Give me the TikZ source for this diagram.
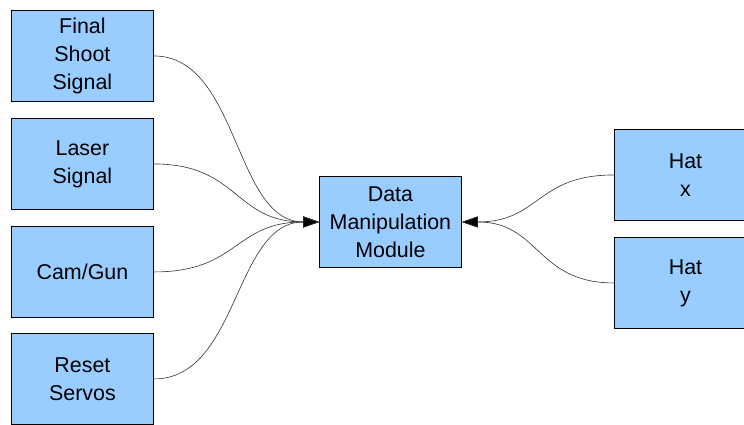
\documentclass[tikz,border=0pt]{standalone}
\usepackage{fontspec}
\setmainfont{Liberation Sans}
\usetikzlibrary{arrows.meta}
\definecolor{blockblue}{RGB}{153,204,255}
\begin{document}
\begin{tikzpicture}[x=1bp,y=-1bp,
  block/.style={draw=black, line width=0.9bp, fill=blockblue,
    minimum width=142bp, minimum height=91bp, inner sep=0pt,
    align=center, anchor=north west,
    font=\fontsize{21.5}{28}\selectfont},
  link/.style={draw=black!80, line width=0.6bp,
    -{Triangle[length=16bp,width=11bp,fill=black]}}]
\clip (0,0) rectangle (744,424);
\fill[white] (0,0) rectangle (744,424);

% input blocks
\node[block] (fss) at (11,10)  {Final\\Shoot\\Signal};
\node[block] (las) at (11,118) {Laser\\Signal};
\node[block] (cam) at (11,226) {Cam/Gun};
\node[block] (rst) at (11,333) {Reset\\Servos};

% central module
\node[block] (dmm) at (319,176) {Data\\Manipulation\\Module};

% hat inputs
\node[block] (hx) at (614,129) {Hat\\x};
\node[block] (hy) at (614,237) {Hat\\y};

% connectors
\draw[link] (fss.east) .. controls +(85,0) and +(-85,0) .. (dmm.west);
\draw[link] (las.east) .. controls +(85,0) and +(-85,0) .. (dmm.west);
\draw[link] (cam.east) .. controls +(85,0) and +(-85,0) .. (dmm.west);
\draw[link] (rst.east) .. controls +(85,0) and +(-85,0) .. (dmm.west);
\draw[link] (hx.west) .. controls +(-78,0) and +(78,0) .. (dmm.east);
\draw[link] (hy.west) .. controls +(-78,0) and +(78,0) .. (dmm.east);
\end{tikzpicture}
\end{document}
